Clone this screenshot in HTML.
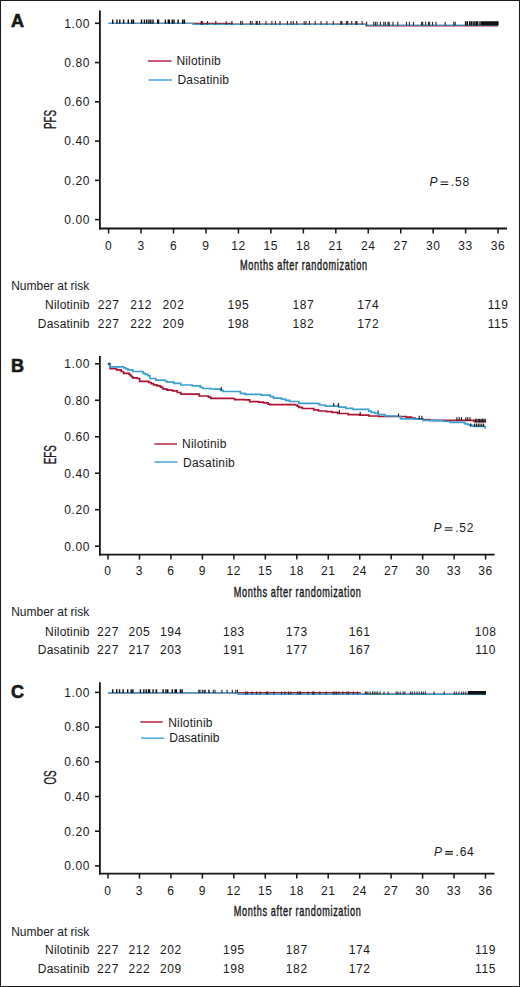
<!DOCTYPE html>
<html><head><meta charset="utf-8"><title>Kaplan-Meier curves</title>
<style>
html,body{margin:0;padding:0;background:#fff;width:520px;height:987px;overflow:hidden;}
svg{display:block;}
text{font-family:"Liberation Sans", sans-serif;fill:#1a1a1a;}
.n{font-size:12px;letter-spacing:0.6px;}
.t{font-size:12px;}
.l{letter-spacing:0.2px;}
.c{font-size:15.6px;stroke:#1a1a1a;stroke-width:0.35px;}
.m{font-size:14.3px;stroke:#1a1a1a;stroke-width:0.45px;}
</style></head><body>
<svg width="520" height="987" viewBox="0 0 520 987">
<rect x="0" y="0" width="520" height="987" fill="#fff"/>
<rect x="0.5" y="0.5" width="519" height="986" fill="none" stroke="#1c1c1c" stroke-width="1"/>
<text x="11" y="26.5" font-family='"Liberation Sans", sans-serif' font-weight="bold" font-size="18" fill="#111" stroke="#111" stroke-width="0.6">A</text>
<line x1="99.9" y1="10.5" x2="99.9" y2="229.4" stroke="#151515" stroke-width="1.8"/>
<line x1="99" y1="228.5" x2="507" y2="228.5" stroke="#151515" stroke-width="1.8"/>
<line x1="95" y1="219.6" x2="100" y2="219.6" stroke="#151515" stroke-width="1.6"/>
<text class="n" x="90.1" y="223.9" text-anchor="end">0.00</text>
<line x1="95" y1="180.34" x2="100" y2="180.34" stroke="#151515" stroke-width="1.6"/>
<text class="n" x="90.1" y="184.64" text-anchor="end">0.20</text>
<line x1="95" y1="141.08" x2="100" y2="141.08" stroke="#151515" stroke-width="1.6"/>
<text class="n" x="90.1" y="145.38" text-anchor="end">0.40</text>
<line x1="95" y1="101.82" x2="100" y2="101.82" stroke="#151515" stroke-width="1.6"/>
<text class="n" x="90.1" y="106.12" text-anchor="end">0.60</text>
<line x1="95" y1="62.56" x2="100" y2="62.56" stroke="#151515" stroke-width="1.6"/>
<text class="n" x="90.1" y="66.86" text-anchor="end">0.80</text>
<line x1="95" y1="23.3" x2="100" y2="23.3" stroke="#151515" stroke-width="1.6"/>
<text class="n" x="90.1" y="27.6" text-anchor="end">1.00</text>
<line x1="108.6" y1="228.5" x2="108.6" y2="233.5" stroke="#151515" stroke-width="1.5"/>
<text class="n" x="108.6" y="249.6" text-anchor="middle">0</text>
<line x1="141.06" y1="228.5" x2="141.06" y2="233.5" stroke="#151515" stroke-width="1.5"/>
<text class="n" x="141.06" y="249.6" text-anchor="middle">3</text>
<line x1="173.52" y1="228.5" x2="173.52" y2="233.5" stroke="#151515" stroke-width="1.5"/>
<text class="n" x="173.52" y="249.6" text-anchor="middle">6</text>
<line x1="205.97" y1="228.5" x2="205.97" y2="233.5" stroke="#151515" stroke-width="1.5"/>
<text class="n" x="205.97" y="249.6" text-anchor="middle">9</text>
<line x1="238.43" y1="228.5" x2="238.43" y2="233.5" stroke="#151515" stroke-width="1.5"/>
<text class="n" x="238.43" y="249.6" text-anchor="middle">12</text>
<line x1="270.89" y1="228.5" x2="270.89" y2="233.5" stroke="#151515" stroke-width="1.5"/>
<text class="n" x="270.89" y="249.6" text-anchor="middle">15</text>
<line x1="303.35" y1="228.5" x2="303.35" y2="233.5" stroke="#151515" stroke-width="1.5"/>
<text class="n" x="303.35" y="249.6" text-anchor="middle">18</text>
<line x1="335.81" y1="228.5" x2="335.81" y2="233.5" stroke="#151515" stroke-width="1.5"/>
<text class="n" x="335.81" y="249.6" text-anchor="middle">21</text>
<line x1="368.27" y1="228.5" x2="368.27" y2="233.5" stroke="#151515" stroke-width="1.5"/>
<text class="n" x="368.27" y="249.6" text-anchor="middle">24</text>
<line x1="400.73" y1="228.5" x2="400.73" y2="233.5" stroke="#151515" stroke-width="1.5"/>
<text class="n" x="400.73" y="249.6" text-anchor="middle">27</text>
<line x1="433.18" y1="228.5" x2="433.18" y2="233.5" stroke="#151515" stroke-width="1.5"/>
<text class="n" x="433.18" y="249.6" text-anchor="middle">30</text>
<line x1="465.64" y1="228.5" x2="465.64" y2="233.5" stroke="#151515" stroke-width="1.5"/>
<text class="n" x="465.64" y="249.6" text-anchor="middle">33</text>
<line x1="498.1" y1="228.5" x2="498.1" y2="233.5" stroke="#151515" stroke-width="1.5"/>
<text class="n" x="498.1" y="249.6" text-anchor="middle">36</text>
<text class="m" transform="translate(240.1,270.2) scale(0.64,1)" x="0" y="0" textLength="198.44" lengthAdjust="spacing">Months after randomization</text>
<text class="c" transform="translate(56,119.6) rotate(-90) scale(0.625,1)" text-anchor="middle">PFS</text>
<line x1="148" y1="61" x2="171.5" y2="61" stroke="#ad1533" stroke-width="1.4"/>
<line x1="148.5" y1="80" x2="172" y2="80" stroke="#3aa0d0" stroke-width="1.4"/>
<text class="t l" x="176.4" y="64.6">Nilotinib</text>
<text class="t" x="177.4" y="83.8" letter-spacing="0.2">Dasatinib</text>
<text class="t" x="429.4" y="186.2" font-style="italic">P</text>
<path d="M440.6,182H448.3M440.6,184.5H448.3" stroke="#1a1a1a" stroke-width="1.1"/>
<text class="t" x="451" y="186.2" letter-spacing="0.75">.58</text>
<text class="t" x="11.2" y="290.2">Number at risk</text>
<text class="t l" x="89.6" y="309.1" text-anchor="end">Nilotinib</text>
<text class="t l" x="89.6" y="327.9" text-anchor="end">Dasatinib</text>
<text class="n" x="108.6" y="309.1" text-anchor="middle">227</text>
<text class="n" x="108.6" y="327.9" text-anchor="middle">227</text>
<text class="n" x="141.06" y="309.1" text-anchor="middle">212</text>
<text class="n" x="141.06" y="327.9" text-anchor="middle">222</text>
<text class="n" x="173.52" y="309.1" text-anchor="middle">202</text>
<text class="n" x="173.52" y="327.9" text-anchor="middle">209</text>
<text class="n" x="238.43" y="309.1" text-anchor="middle">195</text>
<text class="n" x="238.43" y="327.9" text-anchor="middle">198</text>
<text class="n" x="303.35" y="309.1" text-anchor="middle">187</text>
<text class="n" x="303.35" y="327.9" text-anchor="middle">182</text>
<text class="n" x="368.27" y="309.1" text-anchor="middle">174</text>
<text class="n" x="368.27" y="327.9" text-anchor="middle">172</text>
<text class="n" x="498.1" y="309.1" text-anchor="middle">119</text>
<text class="n" x="498.1" y="327.9" text-anchor="middle">115</text>
<text x="11" y="371.8" font-family='"Liberation Sans", sans-serif' font-weight="bold" font-size="18" fill="#111" stroke="#111" stroke-width="0.6">B</text>
<line x1="99.9" y1="356" x2="99.9" y2="555.5" stroke="#151515" stroke-width="1.8"/>
<line x1="99" y1="554.6" x2="494.6" y2="554.6" stroke="#151515" stroke-width="1.8"/>
<line x1="95" y1="546.2" x2="100" y2="546.2" stroke="#151515" stroke-width="1.6"/>
<text class="n" x="90.1" y="550.5" text-anchor="end">0.00</text>
<line x1="95" y1="509.72" x2="100" y2="509.72" stroke="#151515" stroke-width="1.6"/>
<text class="n" x="90.1" y="514.02" text-anchor="end">0.20</text>
<line x1="95" y1="473.24" x2="100" y2="473.24" stroke="#151515" stroke-width="1.6"/>
<text class="n" x="90.1" y="477.54" text-anchor="end">0.40</text>
<line x1="95" y1="436.76" x2="100" y2="436.76" stroke="#151515" stroke-width="1.6"/>
<text class="n" x="90.1" y="441.06" text-anchor="end">0.60</text>
<line x1="95" y1="400.28" x2="100" y2="400.28" stroke="#151515" stroke-width="1.6"/>
<text class="n" x="90.1" y="404.58" text-anchor="end">0.80</text>
<line x1="95" y1="363.8" x2="100" y2="363.8" stroke="#151515" stroke-width="1.6"/>
<text class="n" x="90.1" y="368.1" text-anchor="end">1.00</text>
<line x1="108" y1="554.6" x2="108" y2="559.6" stroke="#151515" stroke-width="1.5"/>
<text class="n" x="108" y="575.4" text-anchor="middle">0</text>
<line x1="139.47" y1="554.6" x2="139.47" y2="559.6" stroke="#151515" stroke-width="1.5"/>
<text class="n" x="139.47" y="575.4" text-anchor="middle">3</text>
<line x1="170.93" y1="554.6" x2="170.93" y2="559.6" stroke="#151515" stroke-width="1.5"/>
<text class="n" x="170.93" y="575.4" text-anchor="middle">6</text>
<line x1="202.4" y1="554.6" x2="202.4" y2="559.6" stroke="#151515" stroke-width="1.5"/>
<text class="n" x="202.4" y="575.4" text-anchor="middle">9</text>
<line x1="233.87" y1="554.6" x2="233.87" y2="559.6" stroke="#151515" stroke-width="1.5"/>
<text class="n" x="233.87" y="575.4" text-anchor="middle">12</text>
<line x1="265.33" y1="554.6" x2="265.33" y2="559.6" stroke="#151515" stroke-width="1.5"/>
<text class="n" x="265.33" y="575.4" text-anchor="middle">15</text>
<line x1="296.8" y1="554.6" x2="296.8" y2="559.6" stroke="#151515" stroke-width="1.5"/>
<text class="n" x="296.8" y="575.4" text-anchor="middle">18</text>
<line x1="328.27" y1="554.6" x2="328.27" y2="559.6" stroke="#151515" stroke-width="1.5"/>
<text class="n" x="328.27" y="575.4" text-anchor="middle">21</text>
<line x1="359.73" y1="554.6" x2="359.73" y2="559.6" stroke="#151515" stroke-width="1.5"/>
<text class="n" x="359.73" y="575.4" text-anchor="middle">24</text>
<line x1="391.2" y1="554.6" x2="391.2" y2="559.6" stroke="#151515" stroke-width="1.5"/>
<text class="n" x="391.2" y="575.4" text-anchor="middle">27</text>
<line x1="422.67" y1="554.6" x2="422.67" y2="559.6" stroke="#151515" stroke-width="1.5"/>
<text class="n" x="422.67" y="575.4" text-anchor="middle">30</text>
<line x1="454.13" y1="554.6" x2="454.13" y2="559.6" stroke="#151515" stroke-width="1.5"/>
<text class="n" x="454.13" y="575.4" text-anchor="middle">33</text>
<line x1="485.6" y1="554.6" x2="485.6" y2="559.6" stroke="#151515" stroke-width="1.5"/>
<text class="n" x="485.6" y="575.4" text-anchor="middle">36</text>
<text class="m" transform="translate(233.8,596.5) scale(0.64,1)" x="0" y="0" textLength="198.44" lengthAdjust="spacing">Months after randomization</text>
<text class="c" transform="translate(56,454.8) rotate(-90) scale(0.625,1)" text-anchor="middle">EFS</text>
<line x1="154.3" y1="444" x2="177" y2="444" stroke="#ad1533" stroke-width="1.4"/>
<line x1="154.3" y1="462" x2="177.4" y2="462" stroke="#3aa0d0" stroke-width="1.4"/>
<text class="t l" x="182.1" y="448.1">Nilotinib</text>
<text class="t" x="183.1" y="466.5" letter-spacing="0.2">Dasatinib</text>
<text class="t" x="433.6" y="532" font-style="italic">P</text>
<path d="M444.8,527.8H452.5M444.8,530.3H452.5" stroke="#1a1a1a" stroke-width="1.1"/>
<text class="t" x="455.2" y="532" letter-spacing="0.75">.52</text>
<text class="t" x="11.2" y="615.5">Number at risk</text>
<text class="t l" x="89.6" y="635.5" text-anchor="end">Nilotinib</text>
<text class="t l" x="89.6" y="653.8" text-anchor="end">Dasatinib</text>
<text class="n" x="108" y="635.5" text-anchor="middle">227</text>
<text class="n" x="108" y="653.8" text-anchor="middle">227</text>
<text class="n" x="139.47" y="635.5" text-anchor="middle">205</text>
<text class="n" x="139.47" y="653.8" text-anchor="middle">217</text>
<text class="n" x="170.93" y="635.5" text-anchor="middle">194</text>
<text class="n" x="170.93" y="653.8" text-anchor="middle">203</text>
<text class="n" x="233.87" y="635.5" text-anchor="middle">183</text>
<text class="n" x="233.87" y="653.8" text-anchor="middle">191</text>
<text class="n" x="296.8" y="635.5" text-anchor="middle">173</text>
<text class="n" x="296.8" y="653.8" text-anchor="middle">177</text>
<text class="n" x="359.73" y="635.5" text-anchor="middle">161</text>
<text class="n" x="359.73" y="653.8" text-anchor="middle">167</text>
<text class="n" x="485.6" y="635.5" text-anchor="middle">108</text>
<text class="n" x="485.6" y="653.8" text-anchor="middle">110</text>
<text x="11" y="697.5" font-family='"Liberation Sans", sans-serif' font-weight="bold" font-size="18" fill="#111" stroke="#111" stroke-width="0.6">C</text>
<line x1="99.9" y1="682.2" x2="99.9" y2="874.5" stroke="#151515" stroke-width="1.8"/>
<line x1="99" y1="873.6" x2="494.6" y2="873.6" stroke="#151515" stroke-width="1.8"/>
<line x1="95" y1="865.9" x2="100" y2="865.9" stroke="#151515" stroke-width="1.6"/>
<text class="n" x="90.1" y="870.2" text-anchor="end">0.00</text>
<line x1="95" y1="831.2" x2="100" y2="831.2" stroke="#151515" stroke-width="1.6"/>
<text class="n" x="90.1" y="835.5" text-anchor="end">0.20</text>
<line x1="95" y1="796.5" x2="100" y2="796.5" stroke="#151515" stroke-width="1.6"/>
<text class="n" x="90.1" y="800.8" text-anchor="end">0.40</text>
<line x1="95" y1="761.8" x2="100" y2="761.8" stroke="#151515" stroke-width="1.6"/>
<text class="n" x="90.1" y="766.1" text-anchor="end">0.60</text>
<line x1="95" y1="727.1" x2="100" y2="727.1" stroke="#151515" stroke-width="1.6"/>
<text class="n" x="90.1" y="731.4" text-anchor="end">0.80</text>
<line x1="95" y1="692.4" x2="100" y2="692.4" stroke="#151515" stroke-width="1.6"/>
<text class="n" x="90.1" y="696.7" text-anchor="end">1.00</text>
<line x1="108" y1="873.6" x2="108" y2="878.6" stroke="#151515" stroke-width="1.5"/>
<text class="n" x="108" y="894.5" text-anchor="middle">0</text>
<line x1="139.46" y1="873.6" x2="139.46" y2="878.6" stroke="#151515" stroke-width="1.5"/>
<text class="n" x="139.46" y="894.5" text-anchor="middle">3</text>
<line x1="170.92" y1="873.6" x2="170.92" y2="878.6" stroke="#151515" stroke-width="1.5"/>
<text class="n" x="170.92" y="894.5" text-anchor="middle">6</text>
<line x1="202.38" y1="873.6" x2="202.38" y2="878.6" stroke="#151515" stroke-width="1.5"/>
<text class="n" x="202.38" y="894.5" text-anchor="middle">9</text>
<line x1="233.83" y1="873.6" x2="233.83" y2="878.6" stroke="#151515" stroke-width="1.5"/>
<text class="n" x="233.83" y="894.5" text-anchor="middle">12</text>
<line x1="265.29" y1="873.6" x2="265.29" y2="878.6" stroke="#151515" stroke-width="1.5"/>
<text class="n" x="265.29" y="894.5" text-anchor="middle">15</text>
<line x1="296.75" y1="873.6" x2="296.75" y2="878.6" stroke="#151515" stroke-width="1.5"/>
<text class="n" x="296.75" y="894.5" text-anchor="middle">18</text>
<line x1="328.21" y1="873.6" x2="328.21" y2="878.6" stroke="#151515" stroke-width="1.5"/>
<text class="n" x="328.21" y="894.5" text-anchor="middle">21</text>
<line x1="359.67" y1="873.6" x2="359.67" y2="878.6" stroke="#151515" stroke-width="1.5"/>
<text class="n" x="359.67" y="894.5" text-anchor="middle">24</text>
<line x1="391.12" y1="873.6" x2="391.12" y2="878.6" stroke="#151515" stroke-width="1.5"/>
<text class="n" x="391.12" y="894.5" text-anchor="middle">27</text>
<line x1="422.58" y1="873.6" x2="422.58" y2="878.6" stroke="#151515" stroke-width="1.5"/>
<text class="n" x="422.58" y="894.5" text-anchor="middle">30</text>
<line x1="454.04" y1="873.6" x2="454.04" y2="878.6" stroke="#151515" stroke-width="1.5"/>
<text class="n" x="454.04" y="894.5" text-anchor="middle">33</text>
<line x1="485.5" y1="873.6" x2="485.5" y2="878.6" stroke="#151515" stroke-width="1.5"/>
<text class="n" x="485.5" y="894.5" text-anchor="middle">36</text>
<text class="m" transform="translate(233.8,915.9) scale(0.64,1)" x="0" y="0" textLength="198.44" lengthAdjust="spacing">Months after randomization</text>
<text class="c" transform="translate(56,777.5) rotate(-90) scale(0.625,1)" text-anchor="middle">OS</text>
<line x1="140.4" y1="722" x2="162.8" y2="722" stroke="#ad1533" stroke-width="1.4"/>
<line x1="141" y1="738.2" x2="164" y2="738.2" stroke="#3aa0d0" stroke-width="1.4"/>
<text class="t l" x="168.2" y="726.6">Nilotinib</text>
<text class="t" x="169.2" y="742.3" letter-spacing="0.03">Dasatinib</text>
<text class="t" x="434" y="855.8" font-style="italic">P</text>
<path d="M445.2,851.6H452.9M445.2,854.1H452.9" stroke="#1a1a1a" stroke-width="1.1"/>
<text class="t" x="455.6" y="855.8" letter-spacing="0.75">.64</text>
<text class="t" x="11.2" y="935.5">Number at risk</text>
<text class="t l" x="89.6" y="954.3" text-anchor="end">Nilotinib</text>
<text class="t l" x="89.6" y="973" text-anchor="end">Dasatinib</text>
<text class="n" x="108" y="954.3" text-anchor="middle">227</text>
<text class="n" x="108" y="973" text-anchor="middle">227</text>
<text class="n" x="139.46" y="954.3" text-anchor="middle">212</text>
<text class="n" x="139.46" y="973" text-anchor="middle">222</text>
<text class="n" x="170.92" y="954.3" text-anchor="middle">202</text>
<text class="n" x="170.92" y="973" text-anchor="middle">209</text>
<text class="n" x="233.83" y="954.3" text-anchor="middle">195</text>
<text class="n" x="233.83" y="973" text-anchor="middle">198</text>
<text class="n" x="296.75" y="954.3" text-anchor="middle">187</text>
<text class="n" x="296.75" y="973" text-anchor="middle">182</text>
<text class="n" x="359.67" y="954.3" text-anchor="middle">174</text>
<text class="n" x="359.67" y="973" text-anchor="middle">172</text>
<text class="n" x="485.5" y="954.3" text-anchor="middle">119</text>
<text class="n" x="485.5" y="973" text-anchor="middle">115</text>
<path d="M108.6,23.4H232V24.3H366V25.8H498" stroke="#ad1533" stroke-width="1.4" fill="none"/>
<path d="M108.6,23.4H193V24.4H366V25.1H498" stroke="#3aa0d0" stroke-width="1.4" fill="none"/>
<path d="M112.7,19.5V23.7M117,19.5V23.7M119.8,19.5V23.7M123.6,19.5V23.7M128.3,19.5V23.7M131.7,19.5V23.7M133.5,19.5V23.7M141.5,19.5V23.7M144.4,19.5V23.7M146.7,19.5V23.7M149,19.5V23.7M150.8,19.5V23.7M153,19.5V23.7M157.7,19.5V23.7M158.5,19.5V23.7M165.4,19.5V23.7M168.3,19.5V23.7M169.4,19.5V23.7M172.3,19.5V23.7M174,19.5V23.7M178.1,19.5V23.7M182.7,19.5V23.7M184.4,19.5V23.7M465.6,21.2V25.4M467.3,21.2V25.4M469.6,21.2V25.4M471.3,21.2V25.4M473.1,21.2V25.4M474.8,21.2V25.4M476.5,21.2V25.4M477.7,21.2V25.4M480,21.2V25.4M481.7,21.2V25.4M483.05,21.2V25.4M484.4,21.2V25.4M485.75,21.2V25.4M487.1,21.2V25.4M488.45,21.2V25.4M489.8,21.2V25.4M491.15,21.2V25.4M492.5,21.2V25.4M493.85,21.2V25.4M495.2,21.2V25.4M496.55,21.2V25.4M497.9,21.2V25.4" stroke="#111" stroke-width="1.4" fill="none"/><path d="M201.2,21.1V24.7M202.3,21.1V24.7M207.5,21.1V24.7M215.8,21.1V24.7M226.2,21.1V24.7M231.9,21.1V24.7M240.6,21.1V24.7M242.3,21.1V24.7M250.4,21.1V24.7M252.1,21.1V24.7M256.2,21.1V24.7M257.3,21.1V24.7M259.6,21.1V24.7M266,21.1V24.7M271.9,21.1V24.7M275.4,21.1V24.7M280,21.1V24.7M287.5,21.1V24.7M291,21.1V24.7M293.3,21.1V24.7M296.7,21.1V24.7M304.2,21.1V24.7M306,21.1V24.7M309.4,21.1V24.7M315.2,21.1V24.7M321,21.1V24.7M326.9,21.1V24.7M333.3,21.1V24.7M340.8,21.1V24.7M341.9,21.1V24.7M346.5,21.1V24.7M347.7,21.1V24.7M351.7,21.1V24.7M355.8,21.1V24.7M356.9,21.1V24.7M362.1,21.1V24.7M366.7,21.8V25.4M373.7,21.8V25.4M375.4,21.8V25.4M377.1,21.8V25.4M380.4,21.8V25.4M383.8,21.8V25.4M385.4,21.8V25.4M388,21.8V25.4M389.2,21.8V25.4M393,21.8V25.4M397.7,21.8V25.4M406.5,21.8V25.4M409.4,21.8V25.4M413.5,21.8V25.4M421.5,21.8V25.4M422.7,21.8V25.4M425.6,21.8V25.4M428.5,21.8V25.4M429.6,21.8V25.4M432.5,21.8V25.4M436,21.8V25.4M445.2,21.8V25.4M453.8,21.8V25.4M455.2,21.8V25.4" stroke="#2a2a2a" stroke-width="1.1" fill="none"/>
<path d="M108.4,363.8H110.2V368.6H116.5V369.8H121.2V371.5H123.5V373.3H129.2V374.4H130.37V375.57H131.53V376.73H132.7V377.9H137.3V378.5H139.6V381.3H145.4V381.3H148.8V382.5H151.15V383.65H153.5V384.8H156.95V385.95H160.4V387.1H162.7V388.8H166.9V390.2H172.7V390.8H177.3V392.5H180.8V394.2H196.9V394.2H199.2V396H208.5V397.1H210.8V398.3H232.3V398.5H234.6V399.6H245V399.8H249.6V401.7H258.8V402.2H263.5V402.8H268V404.2H270V404.6H295.4V405H297.1V406.15H298.8V407.3H302.3V408.5H313.8V409.8H318.5V411H326.5V411.7H331.9V412.3H337.7V413.5H348.1V414.6H359.6V415.2H368.8V416H378.8V416.5H406.2V417.2H411.5V418H415.4V418.8H423V419.5H430V420.3H473.1V420.3H474V421.5H486.2V421.5" stroke="#ad1533" stroke-width="1.7" fill="none"/>
<path d="M108.4,363.8H110.2V366.8H111.9V366.8H118.8V366.9H123.5V367.8H125.75V368.8H128V369.8H132.7V371.5H138.5V371.5H143V373.3H145.35V374.45H147.7V375.6H150V378.5H155.8V380.2H165V381H166.9V382.1H173.8V383.3H180.8V385H192.3V385.9H200.4V387.3H202.7V388.5H210.8V389H215V389.2H220.8V390.4H223.1V391.5H235.8V391.5H240.4V393.3H245V394.4H257.7V394.4H261.2V395.2H270.4V396.7H273.5V398.1H281.5V399.2H285.55V400.35H289.6V401.5H298.8V403.3H317.3V403.6H319.6V405H325.4V406.2H333.1V406.2H338.8V407.1H345.8V408.3H352.7V409.4H363.1V409.4H368.8V411.2H371.2V412.3H374.85V413.45H378.5V414.6H385V416H398.5V416.5H400.5V418.8H413.8V419.2H423V420.3H435.4V420.7H443.5V421.5H450.2V422.3H463.8V422.6H465V423.8H467.7V424.6H470V425.4H473V426.3H483.8V426.5H485.2V428H486V428" stroke="#3aa0d0" stroke-width="1.7" fill="none"/>
<circle cx="109" cy="364" r="1.4" fill="#3d5566"/>
<path d="M221.3,387.2V390.6M333.7,403V406.2M338.3,403V406.5M339.4,410.2V413.5M360.2,412V415.2M378.1,410.4V412.7M398.5,413.5V416.5M419.2,415.7V419.5M421.9,415.7V419.5M456.9,417.3V420.4M459.2,417.3V420.4M461.5,417.3V420.4M465.8,417.3V420.4M467.7,417.3V420.4M470,417.3V420.4M475.4,418.8V422.5M476.8,418.8V422.5M478.3,418.8V422.5M479.6,418.8V422.5M481,418.8V422.5M482.4,418.8V422.5M483.8,418.8V422.5M485.2,418.8V422.5M470.8,423.5V426.8M474.6,423.5V426.8M476.4,423.5V426.8M478.2,423.5V426.8M480,423.5V426.8M481.8,423.5V426.8M483.6,423.5V426.8" stroke="#111" stroke-width="1.1" fill="none"/>
<path d="M108,692.7H360V694.2H486" stroke="#ad1533" stroke-width="1.4" fill="none"/>
<path d="M108,692.7H238V694.3H486" stroke="#3aa0d0" stroke-width="1.4" fill="none"/>
<path d="M112.7,689.3V693M116.7,689.3V693M119.6,689.3V693M123.1,689.3V693M127.7,689.3V693M131.2,689.3V693M132.9,689.3V693M140.4,689.3V693M143.8,689.3V693M146.2,689.3V693M148.5,689.3V693M149.6,689.3V693M153.1,689.3V693M156.2,689.3V693M156.5,689.3V693M163.1,689.3V693M166,689.3V693M167.7,689.3V693M172.3,689.3V693M175.2,689.3V693M176.3,689.3V693M180.4,689.3V693M182.1,689.3V693M468.5,690.9V694.6M469.9,690.9V694.6M471.3,690.9V694.6M472.7,690.9V694.6M474.1,690.9V694.6M475.5,690.9V694.6M476.9,690.9V694.6M478.3,690.9V694.6M479.7,690.9V694.6M481.1,690.9V694.6M482.5,690.9V694.6M483.9,690.9V694.6M485.3,690.9V694.6" stroke="#111" stroke-width="1.4" fill="none"/><path d="M198.8,689.8V693M200,689.8V693M202.3,689.8V693M204,689.8V693M205.2,689.8V693M208.7,689.8V693M209.2,689.8V693M213.3,689.8V693M215,689.8V693M221.9,689.8V693M227.1,689.8V693M232.3,689.8V693M235.8,689.8V693M237.5,689.8V693M245.6,691.4V694.6M247.3,691.4V694.6M251.9,691.4V694.6M256.5,691.4V694.6M260.2,691.4V694.6M266.5,691.4V694.6M267.7,691.4V694.6M274,691.4V694.6M281.5,691.4V694.6M285,691.4V694.6M288.5,691.4V694.6M290.8,691.4V694.6M297.7,691.4V694.6M299.4,691.4V694.6M300.6,691.4V694.6M308.1,691.4V694.6M312.7,691.4V694.6M314,691.4V694.6M319.8,691.4V694.6M326.2,691.4V694.6M333.1,691.4V694.6M334.8,691.4V694.6M336.5,691.4V694.6M338.8,691.4V694.6M342.9,691.4V694.6M346.9,691.4V694.6M348.7,691.4V694.6M353.3,691.4V694.6M357.3,691.4V694.6M365.4,691.4V694.6M366.2,691.4V694.6M367.9,691.4V694.6M370.2,691.4V694.6M372.5,691.4V694.6M374.2,691.4V694.6M376,691.4V694.6M377.7,691.4V694.6M380,691.4V694.6M384,691.4V694.6M388.1,691.4V694.6M396.2,691.4V694.6M397.9,691.4V694.6M400.2,691.4V694.6M403.1,691.4V694.6M404.8,691.4V694.6M410.6,691.4V694.6M412.3,691.4V694.6M414.6,691.4V694.6M416.9,691.4V694.6M419.2,691.4V694.6M421.5,691.4V694.6M423.3,691.4V694.6M425.4,691.4V694.6M434.1,691.4V694.6M444.2,691.4V694.6M454.3,691.4V694.6M456.3,691.4V694.6M459,691.4V694.6M461.7,691.4V694.6M463.7,691.4V694.6M465.8,691.4V694.6" stroke="#2a2a2a" stroke-width="1.1" fill="none"/>
</svg>
</body></html>
